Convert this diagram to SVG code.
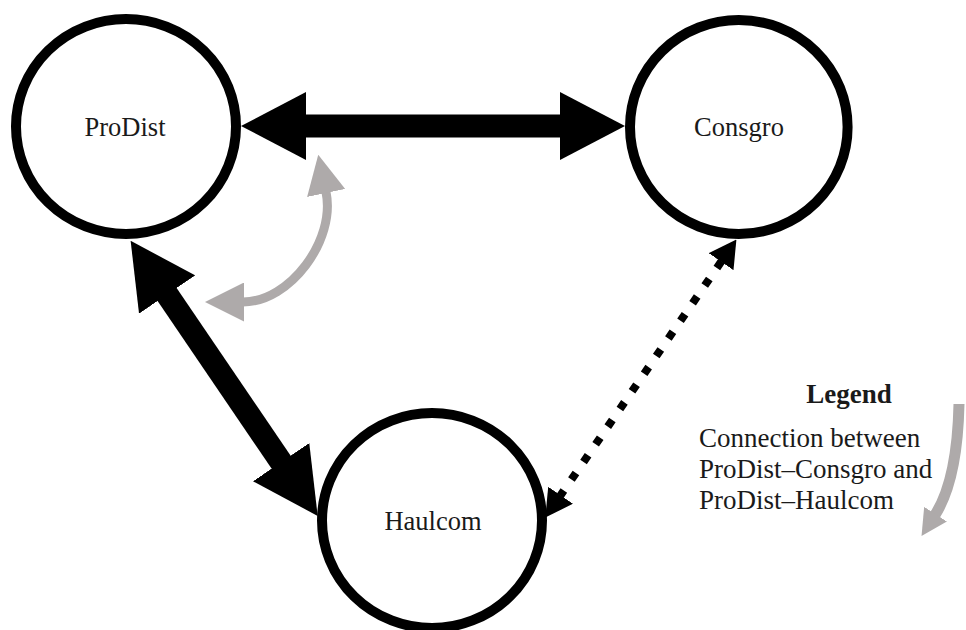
<svg xmlns="http://www.w3.org/2000/svg" width="966" height="630" viewBox="0 0 966 630">
  <style>
    .node { fill: #ffffff; stroke: #000000; stroke-width: 10; }
    .label { font-family: "Liberation Serif", "Times New Roman", serif; font-size: 26.5px; fill: #1a1a1a; }
    .legend-text { font-size: 27px; }
    .center { text-anchor: middle; }
    .bold { font-weight: bold; }
    .thick { stroke: #000000; stroke-width: 23; fill: none; }
    .dotted { stroke: #000000; stroke-width: 8; stroke-dasharray: 8 13.4; fill: none; }
    .gray { stroke: #aeaaaa; fill: none; }
  </style>
  <defs>
    <marker id="bigHead" markerUnits="userSpaceOnUse" markerWidth="65" markerHeight="68" viewBox="0 0 65 68" refX="1" refY="34" orient="auto-start-reverse">
      <path d="M0,0 L65,34 L0,68 Z" fill="#000000"/>
    </marker>
    <marker id="smallHead" markerUnits="userSpaceOnUse" markerWidth="27" markerHeight="30" viewBox="0 0 27 30" refX="0.5" refY="15" orient="auto-start-reverse">
      <path d="M0,0 L27,15 L0,30 Z" fill="#000000"/>
    </marker>
    <marker id="grayHead" markerUnits="userSpaceOnUse" markerWidth="39" markerHeight="39" viewBox="0 0 39 39" refX="1" refY="19.5" orient="auto-start-reverse">
      <path d="M0,0 L39,19.5 L0,39 Z" fill="#aeaaaa"/>
    </marker>
    <marker id="grayHeadSmall" markerUnits="userSpaceOnUse" markerWidth="26" markerHeight="27" viewBox="0 0 26 27" refX="1" refY="13.5" orient="auto-start-reverse">
      <path d="M0,0 L26,13.5 L0,27 Z" fill="#aeaaaa"/>
    </marker>
  </defs>

  <g id="connectors">
    <line id="prodist-consgro" class="thick" x1="305" y1="126" x2="561" y2="126" marker-start="url(#bigHead)" marker-end="url(#bigHead)"/>
    <line id="prodist-haulcom" class="thick" x1="166.6" y1="293.7" x2="281.7" y2="463" marker-start="url(#bigHead)" marker-end="url(#bigHead)"/>
    <line id="consgro-haulcom" class="dotted" x1="721.4" y1="261.3" x2="560.3" y2="495.7" marker-start="url(#smallHead)" marker-end="url(#smallHead)"/>
    <path id="gray-link" class="gray" stroke-width="9" d="M326,192 C336,240 290,302 243,302" marker-start="url(#grayHead)" marker-end="url(#grayHead)"/>
  </g>

  <g id="node-prodist">
    <ellipse class="node" cx="126" cy="126.5" rx="110" ry="107.5"/>
    <text class="label center" x="125" y="136">ProDist</text>
  </g>
  <g id="node-consgro">
    <ellipse class="node" cx="738.8" cy="127" rx="108.8" ry="107"/>
    <text class="label center" x="739" y="136">Consgro</text>
  </g>
  <g id="node-haulcom">
    <ellipse class="node" cx="432" cy="520.5" rx="110" ry="107.5"/>
    <text class="label center" x="433" y="530">Haulcom</text>
  </g>

  <g id="legend">
    <text class="label legend-text bold center" x="849" y="403">Legend</text>
    <text class="label legend-text" x="699" y="447">Connection between</text>
    <text class="label legend-text" x="699" y="478">ProDist–Consgro and</text>
    <text class="label legend-text" x="699" y="509">ProDist–Haulcom</text>
    <path class="gray" stroke-width="11" d="M959,404 C958,450 951,490 935,515" marker-end="url(#grayHeadSmall)"/>
  </g>
</svg>
